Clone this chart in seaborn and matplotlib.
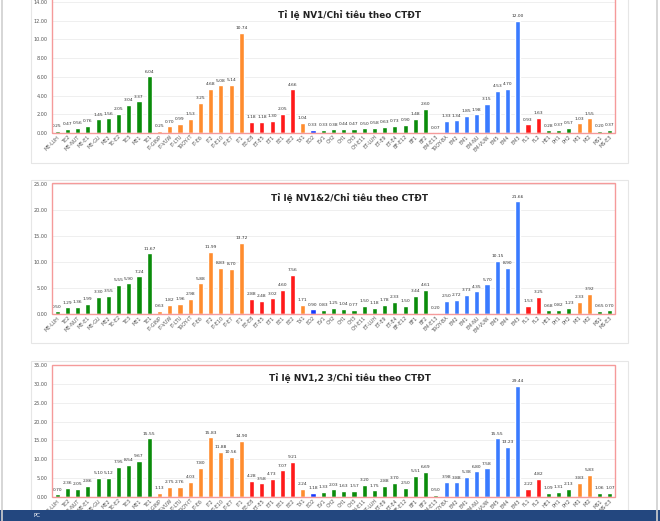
import matplotlib
matplotlib.use('Agg')
import matplotlib.pyplot as plt
from matplotlib.patches import Rectangle
import seaborn as sns

categories = ['ME-LUH', 'TE2', 'ME-NUT', 'ME-E1', 'ME-GU', 'ME2', 'TE-E2', 'TE3', 'ME1', 'TE1',
              'IT-GINP', 'IT-VUW', 'IT-LTU', 'TROY-IT', 'IT-E6', 'IT2', 'IT-E10', 'IT-E7', 'IT1',
              'EE-E8', 'ET-E5', 'ET1', 'EE1', 'EE2', 'TX1', 'ED2',
              'EV1', 'CH2', 'CH1', 'CH3', 'CH-E11', 'ET-LUH', 'ET-E9', 'ET-E4', 'BF-E12', 'BF1', 'BF2',
              'EM-E13', 'TROY-BA', 'EM2', 'EM1', 'EM-NU', 'EM-VUW', 'EM5', 'EM4', 'EM3',
              'FL1', 'FL2', 'HE1', 'PH1', 'PH2', 'MI1', 'MI2', 'MS1', 'MS-E3']

nv1 = [0.25, 0.47, 0.56, 0.76, 1.45, 1.56, 2.05, 3.04, 3.37, 6.04,
       0.25, 0.70, 0.99, 1.53, 3.25, 4.68, 5.08, 5.14, 10.74,
       1.18, 1.18, 1.30, 2.05, 4.66, 1.04, 0.33,
       0.33, 0.38, 0.44, 0.47, 0.50, 0.58, 0.63, 0.73, 0.90, 1.48, 2.60,
       0.07, 1.33, 1.34, 1.85, 1.98, 3.15, 4.53, 4.70, 12.00,
       0.93, 1.63, 0.28, 0.37, 0.57, 1.03, 1.55, 0.20, 0.37]

nv12 = [0.50, 1.29, 1.36, 1.99, 3.30, 3.55, 5.55, 5.90, 7.24, 11.67,
        0.63, 1.82, 1.96, 2.98, 5.88, 11.99, 8.83, 8.70, 13.72,
        2.88, 2.48, 3.02, 4.60, 7.56, 1.71, 0.90,
        0.83, 1.25, 1.04, 0.77, 1.50, 1.18, 1.78, 2.33, 1.50, 3.44, 4.61,
        0.20, 2.50, 2.72, 3.73, 4.35, 5.70, 10.15, 8.90, 21.66,
        1.53, 3.25, 0.68, 0.82, 1.23, 2.33, 3.92, 0.65, 0.70]

nv123 = [0.70, 2.36, 2.05, 2.86, 5.10, 5.12, 7.95, 8.54, 9.67, 15.55,
         1.13, 2.75, 2.76, 4.03, 7.80, 15.83, 11.88, 10.56, 14.90,
         4.28, 3.58, 4.73, 7.07, 9.21, 2.24, 1.18,
         1.33, 2.03, 1.63, 1.57, 3.20, 1.75, 2.88, 3.70, 2.50, 5.51, 6.69,
         0.50, 3.98, 3.88, 5.38, 6.80, 7.58, 15.55, 13.23, 29.44,
         2.22, 4.82, 1.09, 1.31, 2.13, 3.83, 5.83, 1.06, 1.07]

titles = ['Tỉ lệ NV1/Chỉ tiêu theo CTĐT',
          'Tỉ lệ NV1&2/Chỉ tiêu theo CTĐT',
          'Tỉ lệ NV1,2 3/Chỉ tiêu theo CTĐT']

# colour of each bar (by faculty group)
G, O, R, B, D = '#0b8c0b', '#ff8c2e', '#ff1a1a', '#3a7bff', '#1438ff'
bar_colors = [G] * 10 + [O] * 9 + [R] * 5 + [O, D] + [G] * 12 + [B] * 8 + [R] * 2 + [G] * 3 + [O] * 2 + [G] * 2

sns.set_style('white')
plt.rcParams['font.family'] = ['DejaVu Sans']

W, H = 660, 521
fig = plt.figure(figsize=(6.6, 5.21), dpi=100)


def fx(x):
    return x / W


def fy(y):
    return 1 - y / H


def frect(x0, y0, x1, y1, **kw):
    fig.patches.append(Rectangle((fx(x0), fy(y1)), fx(x1) - fx(x0), fy(y0) - fy(y1),
                                 transform=fig.transFigure, figure=fig, **kw))


# page borders and chart cards
fig.add_artist(plt.Line2D([fx(2), fx(2)], [0, 1], color='#d0d0d0', lw=1.2))
fig.add_artist(plt.Line2D([fx(657), fx(657)], [0, 1], color='#d0d0d0', lw=1.2))
for y0, y1 in [(-5, 163), (180, 343), (361, 530)]:
    frect(31, y0, 628, y1, fill=False, edgecolor='#e6e6e6', lw=0.8)

# panels: (values, y max, step, top px, zero px, title px, frame top px)
panels = [(nv1, 14, 2, 2, 133, 15, -5),
          (nv12, 25, 5, 184, 314, 198, 183),
          (nv123, 35, 5, 365, 497, 378, 365)]

for (vals, ymax, step, top, zero, ty, ftop), title in zip(panels, titles):
    ax = fig.add_axes([fx(52), fy(zero), fx(615) - fx(52), fy(top) - fy(zero)])
    sns.barplot(x=categories, y=vals, hue=categories, palette=bar_colors, legend=False,
                width=0.5, saturation=1, ax=ax)
    for c in ax.containers:
        ax.bar_label(c, fmt='%.2f', fontsize=3.2, padding=2, color='#333333')
    ax.set_ylim(0, ymax)
    ax.set_xlim(-0.5, len(categories) - 0.5)
    ax.set_yticks(range(0, ymax + 1, step))
    ax.set_yticklabels(['%.2f' % v for v in range(0, ymax + 1, step)])
    ax.yaxis.grid(True, color='#ececec', lw=0.6)
    ax.set_axisbelow(True)
    for s in ax.spines.values():
        s.set_visible(False)
    ax.tick_params(axis='both', length=0, labelsize=3.5, colors='#555555')
    ax.tick_params(axis='y', pad=3)
    ax.tick_params(axis='x', pad=1)
    plt.setp(ax.get_xticklabels(), rotation=45, ha='right', rotation_mode='anchor')
    ax.set_facecolor('none')
    # red frame round the plot area
    frect(52, ftop, 615, zero, fill=False, edgecolor='#f59a9a', lw=1.0)
    fig.text(fx(350), fy(ty), title, fontsize=6.4, fontweight='bold', color='#222222',
             ha='center', va='center')

# taskbar strip at the bottom
frect(0, 510, 660, 522, color='#23477f', lw=0)
fig.text(fx(33), fy(515.5), 'PC', fontsize=4, color='white', va='center')

fig.savefig('out.png', dpi=100)
